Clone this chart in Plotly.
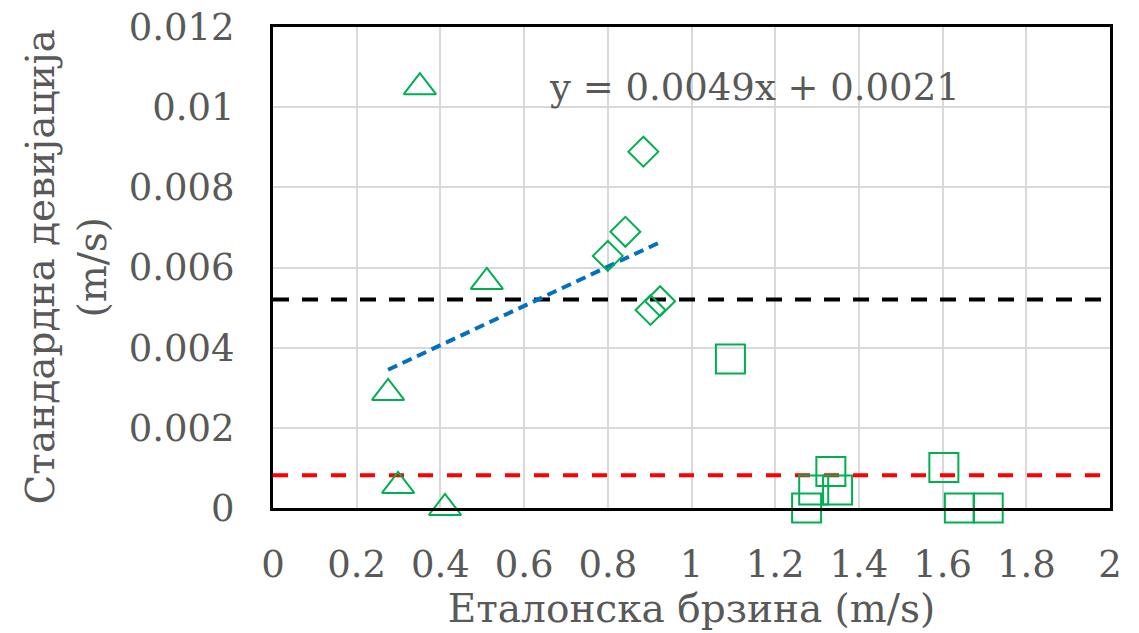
import plotly.graph_objects as go

# Data
tri_x = [0.351, 0.511, 0.275, 0.299, 0.411]
tri_y = [0.0105, 0.00564, 0.00287, 0.00055, 0.0]
dia_x = [0.885, 0.842, 0.800, 0.925, 0.902]
dia_y = [0.00889, 0.00689, 0.00629, 0.00516, 0.00494]
sq_x = [1.093, 1.333, 1.292, 1.349, 1.275, 1.603, 1.640, 1.709]
sq_y = [0.00372, 0.00091, 0.00045, 0.00045, 0.0, 0.00101, 0.0, 0.0]
trend_slope = 0.0049
trend_intercept = 0.0021
trend_x_range = [0.275, 0.925]
black_level = 0.0052
red_level = 0.00082
x_range = [0, 2]
y_range = [0, 0.012]
x_ticks = [0, 0.2, 0.4, 0.6, 0.8, 1, 1.2, 1.4, 1.6, 1.8, 2]
x_ticktext = ["0", "0.2", "0.4", "0.6", "0.8", "1", "1.2", "1.4", "1.6", "1.8", "2"]
y_ticks = [0, 0.002, 0.004, 0.006, 0.008, 0.01, 0.012]
y_ticktext = ["0", "0.002", "0.004", "0.006", "0.008", "0.01", "0.012"]
eq_text = "y = 0.0049x + 0.0021"
x_title = "Еталонска брзина (m/s)"
y_title_lines = ["Стандардна девијација", "(m/s)"]

GREEN = "#00B050"
FONT = "DejaVu Serif"
GRAY = "#595959"
FS = 37
FT = 39

fig = go.Figure()
fig.add_trace(go.Scatter(x=x_range, y=[black_level, black_level], mode="lines",
                         line=dict(color="black", width=4, dash="16px,13px"), hoverinfo="skip"))
fig.add_trace(go.Scatter(x=x_range, y=[red_level, red_level], mode="lines",
                         line=dict(color="#FF0000", width=4, dash="15px,14px"), hoverinfo="skip"))
trend_y = [trend_slope * v + trend_intercept for v in trend_x_range]
fig.add_trace(go.Scatter(x=trend_x_range, y=trend_y, mode="lines",
                         line=dict(color="#0070C0", width=4, dash="10px,6px")))
fig.add_trace(go.Scatter(x=tri_x, y=tri_y, mode="markers", cliponaxis=False,
                         marker=dict(symbol="triangle-up-open", size=28, color=GREEN,
                                     line=dict(color=GREEN, width=2))))
fig.add_trace(go.Scatter(x=dia_x, y=dia_y, mode="markers", cliponaxis=False,
                         marker=dict(symbol="diamond-open", size=23, color=GREEN,
                                     line=dict(color=GREEN, width=2))))
fig.add_trace(go.Scatter(x=sq_x, y=sq_y, mode="markers", cliponaxis=False,
                         marker=dict(symbol="square-open", size=29, color=GREEN,
                                     line=dict(color=GREEN, width=2))))

fig.add_annotation(x=0.655, y=0.0105, xref="x", yref="y", text=eq_text, showarrow=False,
                   xanchor="left", font=dict(family=FONT, size=FS, color=GRAY))
# two-line rotated y-axis title
for txt, shift in zip(y_title_lines, [-233, -181]):
    fig.add_annotation(x=0, y=0.5, xref="paper", yref="paper", text=txt, showarrow=False,
                       textangle=-90, xanchor="center", yanchor="middle", xshift=shift,
                       font=dict(family=FONT, size=FT, color=GRAY))

fig.update_layout(
    width=1139, height=633, showlegend=False,
    plot_bgcolor="white", paper_bgcolor="white",
    margin=dict(l=273, r=29, t=27, b=125, autoexpand=False),
    font=dict(family=FONT, size=FS, color=GRAY),
)
fig.update_xaxes(range=x_range, tickvals=x_ticks, ticktext=x_ticktext, automargin=False,
                 showgrid=True, gridcolor="#D9D9D9", gridwidth=2, ticklabeloverflow="allow",
                 showline=True, linecolor="black", linewidth=3, mirror=True,
                 zeroline=False, ticks="", ticklabelstandoff=22,
                 title=dict(text=x_title, font=dict(family=FONT, size=FT, color=GRAY), standoff=0))
fig.update_yaxes(range=y_range, tickvals=y_ticks, ticktext=y_ticktext, automargin=False,
                 showgrid=True, gridcolor="#D9D9D9", gridwidth=2, ticklabeloverflow="allow",
                 showline=True, linecolor="black", linewidth=3, mirror=True,
                 zeroline=False, ticks="", ticklabelstandoff=28)

fig.write_html("out.html", config={"displayModeBar": False},
               post_script="document.body.style.margin='0';")
